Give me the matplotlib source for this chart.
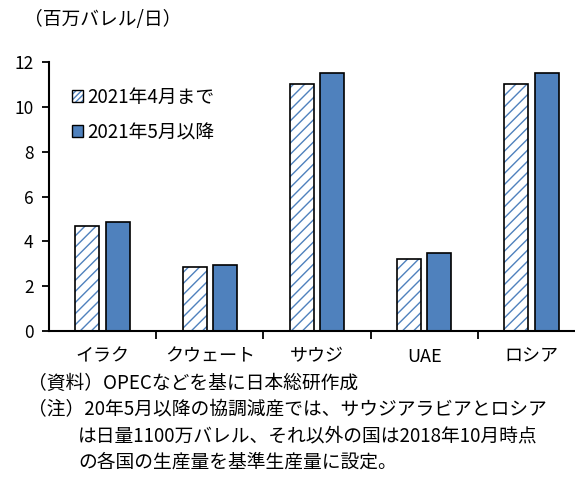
import numpy as np
import matplotlib.pyplot as plt
from matplotlib.patches import Patch
from matplotlib.legend_handler import HandlerTuple

plt.rcParams['font.family'] = ['Noto Sans CJK JP', 'DejaVu Sans']
plt.rcParams['hatch.linewidth'] = 1.0

# データ（百万バレル/日）
paises = ['イラク', 'クウェート', 'サウジ', 'UAE', 'ロシア']
hasta_abril = [4.7, 2.85, 11.0, 3.2, 11.0]
desde_mayo = [4.85, 2.95, 11.5, 3.5, 11.5]
leyenda = ['2021年4月まで', '2021年5月以降']

azul = '#4f81bd'
W, H = 575, 487
fig = plt.figure(figsize=(W / 100, H / 100), dpi=100)
ax = fig.add_axes([49 / W, (H - 331) / H, (585 - 49) / W, (331 - 62) / H])

x = np.arange(len(paises))
ancho = 0.224
d = 0.142

# barras rayadas: primero el rayado azul, luego el borde negro
ax.bar(x - d, hasta_abril, ancho, color='white', edgecolor=azul, hatch='///', linewidth=0)
ax.bar(x - d, hasta_abril, ancho, fill=False, edgecolor='black', linewidth=1.2)
ax.bar(x + d, desde_mayo, ancho, color=azul, edgecolor='black', linewidth=1.2)

ax.set_xlim(-0.5, len(paises) - 0.5)
ax.set_ylim(0, 12)
ax.set_yticks(range(0, 13, 2))
ax.tick_params(axis='y', labelsize=12.5, direction='out', length=5, width=1.3, pad=6)
ax.set_xticks(np.arange(0.5, len(paises) - 0.5, 1))
ax.set_xticklabels([])
ax.set_xticks(x, minor=True)
ax.set_xticklabels(paises, minor=True, fontsize=13)
ax.tick_params(axis='x', which='major', direction='out', length=6, width=1.3)
ax.tick_params(axis='x', which='minor', length=0, pad=12)
for s in ['top', 'right']:
    ax.spines[s].set_visible(False)
for s in ['left', 'bottom']:
    ax.spines[s].set_linewidth(1.5)

h1 = (Patch(facecolor='white', edgecolor=azul, hatch='//////', linewidth=0),
      Patch(fill=False, edgecolor='black', linewidth=1.0))
h2 = Patch(facecolor=azul, edgecolor='black', linewidth=1.0)
fig.legend([h1, h2], leyenda, loc='upper left', bbox_to_anchor=(55 / W, 1 - 70 / H),
           frameon=False, fontsize=13.5, handlelength=0.6, handleheight=0.6,
           handletextpad=0.2, labelspacing=0.75,
           handler_map={tuple: HandlerTuple(ndivide=1, pad=0)})

fig.text(24 / W, 1 - 20 / H, '（百万バレル/日）', fontsize=13.5, va='center')

notas = [
    (28, 383, '（資料）OPECなどを基に日本総研作成'),
    (28, 410, '（注）20年5月以降の協調減産では、サウジアラビアとロシア'),
    (78, 436, 'は日量1100万バレル、それ以外の国は2018年10月時点'),
    (78, 462, 'の各国の生産量を基準生産量に設定。'),
]
for px, py, t in notas:
    fig.text(px / W, 1 - py / H, t, fontsize=13.5, va='center')

fig.savefig('out.png', dpi=100)
